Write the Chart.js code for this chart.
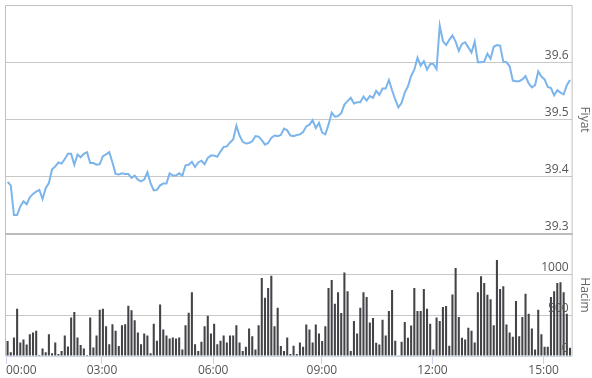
<!DOCTYPE html>
<html>
<head>
<meta charset="utf-8">
<script src="https://cdn.jsdelivr.net/npm/chart.js@4.4.1/dist/chart.umd.min.js"></script>
<style>
  html, body { margin: 0; padding: 0; background: #fff; }
</style>
</head>
<body>
<canvas id="chart" width="592" height="378"></canvas>
<script>
// Fiyat (price) per bar
var price = [
  39.391, 39.385, 39.333, 39.333, 39.348, 39.357, 39.352, 39.364, 39.370, 39.374,
  39.377, 39.361, 39.380, 39.389, 39.413, 39.418, 39.425, 39.423, 39.431, 39.440,
  39.440, 39.421, 39.439, 39.434, 39.440, 39.443, 39.424, 39.424, 39.421, 39.422,
  39.436, 39.439, 39.443, 39.425, 39.405, 39.404, 39.406, 39.405, 39.405, 39.398,
  39.402, 39.395, 39.392, 39.395, 39.408, 39.389, 39.376, 39.377, 39.385, 39.388,
  39.388, 39.406, 39.402, 39.402, 39.406, 39.402, 39.420, 39.421, 39.426, 39.417,
  39.425, 39.428, 39.422, 39.433, 39.437, 39.437, 39.435, 39.444, 39.452, 39.453,
  39.460, 39.465, 39.489, 39.472, 39.461, 39.458, 39.459, 39.462, 39.471, 39.470,
  39.464, 39.456, 39.459, 39.468, 39.472, 39.471, 39.473, 39.484, 39.481, 39.472,
  39.471, 39.473, 39.474, 39.478, 39.488, 39.491, 39.499, 39.485, 39.494, 39.477,
  39.474, 39.491, 39.512, 39.505, 39.506, 39.511, 39.526, 39.532, 39.538, 39.528,
  39.530, 39.530, 39.540, 39.533, 39.541, 39.538, 39.550, 39.543, 39.554, 39.554,
  39.569, 39.551, 39.535, 39.521, 39.529, 39.547, 39.558, 39.576, 39.587, 39.608,
  39.594, 39.602, 39.587, 39.597, 39.597, 39.588, 39.664, 39.637, 39.630, 39.639,
  39.647, 39.636, 39.620, 39.632, 39.635, 39.626, 39.617, 39.636, 39.600, 39.600,
  39.601, 39.615, 39.606, 39.627, 39.630, 39.629, 39.601, 39.600, 39.593, 39.568,
  39.567, 39.567, 39.570, 39.576, 39.563, 39.556, 39.560, 39.584, 39.575, 39.570,
  39.557, 39.555, 39.542, 39.551, 39.547, 39.544, 39.560, 39.569
];

// Hacim (volume) per bar
var volume = [
  183, 45, 228, 581, 167, 203, 142, 268, 289, 309,
  12, 93, 45, 268, 33, 167, 24, 61, 252, 118,
  472, 541, 228, 134, 93, 12, 472, 106, 252, 569,
  581, 366, 146, 390, 309, 122, 378, 390, 618, 561,
  439, 289, 146, 276, 252, 33, 398, 187, 634, 325,
  252, 215, 228, 215, 228, 81, 378, 533, 785, 146,
  61, 175, 366, 496, 276, 398, 146, 187, 252, 167,
  252, 252, 378, 167, 61, 114, 337, 244, 81, 378,
  959, 715, 837, 988, 366, 593, 122, 61, 228, 24,
  126, 24, 167, 114, 386, 325, 167, 386, 276, 183,
  366, 837, 935, 642, 785, 528, 1028, 797, 61, 431,
  276, 593, 785, 724, 411, 467, 163, 142, 447, 252,
  553, 813, 187, 4, 175, 419, 224, 374, 837, 553,
  553, 825, 581, 398, 81, 472, 431, 602, 614, 126,
  756, 1081, 480, 224, 203, 346, 309, 165, 785, 980,
  898, 752, 699, 378, 1179, 825, 858, 386, 289, 236,
  675, 244, 480, 764, 520, 337, 81, 569, 268, 114,
  114, 724, 797, 898, 906, 785, 520, 102
];

// time axis labels and where they fall along the bars
var tickPos = [-0.5, 29.7, 64.7, 98.9, 133.7, 168.7, 177.5];
var tickLabels = ['00:00', '03:00', '06:00', '09:00', '12:00', '15:00', ''];

var priceTicks = [39.3, 39.4, 39.5, 39.6];
var volumeTicks = [0, 500, 1000];

var font = { family: "'Open Sans', sans-serif", size: 12 };

// box around the price pane, left edge of the volume pane
var frame = {
    id: 'frame',
    afterDraw: function (chart) {
        var a = chart.chartArea, c = chart.ctx;
        var mid = chart.scales.yPrice.bottom;
        c.save();
        c.strokeStyle = '#c0c0c0';
        c.lineWidth = 1;
        c.beginPath();
        c.moveTo(a.left - 0.5, a.bottom);
        c.lineTo(a.left - 0.5, a.top + 0.5);
        c.lineTo(a.right + 0.5, a.top + 0.5);
        c.lineTo(a.right + 0.5, a.bottom);
        c.stroke();
        c.strokeStyle = '#bbbbbb';
        c.lineWidth = 2;
        c.beginPath();
        c.moveTo(a.left - 1, mid);
        c.lineTo(a.right + 1, mid);
        c.stroke();
        c.restore();
    }
};

// labels sit inside the panes, so no extra room above/below
function noPad(axis) {
    axis.paddingTop = 0;
    axis.paddingBottom = 0;
}

var points = price.map(function (p, i) { return { x: i, y: p }; });
var bars = volume.map(function (v, i) { return { x: i, y: v }; });

var ctx = document.getElementById('chart').getContext('2d');
new Chart(ctx, {
    type: 'bar',
    data: {
        datasets: [{
            type: 'line',
            label: 'Fiyat',
            data: points,
            yAxisID: 'yPrice',
            borderColor: '#7cb5ec',
            borderWidth: 2,
            pointRadius: 0,
            tension: 0,
            fill: false
        }, {
            type: 'bar',
            label: 'Hacim',
            data: bars,
            yAxisID: 'yVol',
            backgroundColor: '#434348',
            barPercentage: 0.65,
            categoryPercentage: 1
        }]
    },
    options: {
        responsive: false,
        animation: false,
        devicePixelRatio: 1,
        layout: { padding: { top: 5, left: 6, right: 0, bottom: 0 } },
        plugins: { legend: { display: false }, tooltip: { enabled: false } },
        scales: {
            x: {
                type: 'linear',
                min: -0.5,
                max: price.length - 0.5,
                offset: false,
                afterBuildTicks: function (axis) {
                    axis.ticks = tickPos.map(function (v) { return { value: v }; });
                },
                grid: {
                    offset: false,
                    drawOnChartArea: false,
                    tickLength: 8,
                    tickColor: function (c) { return c.index === tickPos.length - 1 ? 'rgba(0,0,0,0)' : '#ccd6eb'; }
                },
                border: { color: '#ccd6eb' },
                ticks: {
                    autoSkip: false,
                    maxRotation: 0,
                    align: 'inner',
                    padding: 1,
                    color: '#555',
                    font: { family: font.family, size: 12, lineHeight: 1 },
                    callback: function (v, i) { return tickLabels[i]; }
                }
            },
            yPrice: {
                type: 'linear',
                position: 'right',
                stack: 'panes',
                stackWeight: 229,
                min: 39.3,
                max: 39.7,
                afterBuildTicks: function (axis) {
                    axis.ticks = priceTicks.map(function (v) { return { value: v }; });
                },
                afterFit: noPad,
                grid: { color: '#c8c8c8', drawTicks: false },
                border: { display: false },
                ticks: {
                    mirror: true,
                    padding: -3,
                    labelOffset: -7,
                    color: '#555',
                    font: font,
                    z: 1,
                    callback: function (v) { return v.toFixed(1); }
                },
                title: { display: true, text: 'Fiyat', color: '#666', font: font, padding: { top: 0, bottom: 12 } }
            },
            yVol: {
                type: 'linear',
                position: 'right',
                stack: 'panes',
                stackWeight: 122,
                min: 0,
                max: 1500,
                afterBuildTicks: function (axis) {
                    axis.ticks = volumeTicks.map(function (v) { return { value: v }; });
                },
                afterFit: noPad,
                grid: { color: '#c8c8c8', drawTicks: false },
                border: { display: false },
                ticks: {
                    mirror: true,
                    padding: -3,
                    labelOffset: -7,
                    color: '#555',
                    font: font,
                    z: 1,
                    callback: function (v) { return String(v); }
                },
                title: { display: true, text: 'Hacim', color: '#666', font: font, padding: { top: 0, bottom: 12 } }
            }
        }
    },
    plugins: [frame]
});
</script>
</body>
</html>
